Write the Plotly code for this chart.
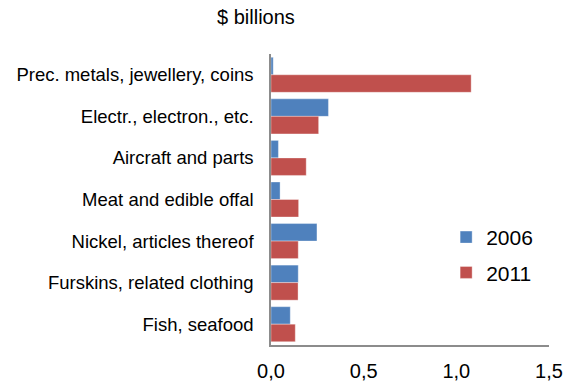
import plotly.graph_objects as go

# Product groups, listed top to bottom
categories = [
    "Prec. metals, jewellery, coins",
    "Electr., electron., etc.",
    "Aircraft and parts",
    "Meat and edible offal",
    "Nickel, articles thereof",
    "Furskins, related clothing",
    "Fish, seafood",
]
values_2006 = [0.012, 0.31, 0.04, 0.049, 0.248, 0.147, 0.104]
values_2011 = [1.08, 0.257, 0.19, 0.149, 0.147, 0.146, 0.131]
x_ticks = [0.0, 0.5, 1.0, 1.5]

FONT = "Liberation Sans, Arial, sans-serif"
BAR_EDGE = dict(color="rgba(255,255,255,0.35)", width=1)

fig = go.Figure()
fig.add_trace(go.Bar(
    y=categories, x=values_2006, name="2006", orientation="h",
    marker=dict(color="#4F81BD", line=BAR_EDGE),
    legendgroup="a",
))
fig.add_trace(go.Bar(
    y=categories, x=values_2011, name="2011", orientation="h",
    marker=dict(color="#C0504D", line=BAR_EDGE),
    legendgroup="b",
))

fig.update_layout(
    width=573, height=384,
    margin=dict(l=271, r=24, t=54, b=39),
    paper_bgcolor="white", plot_bgcolor="white",
    barmode="group", bargap=0.157, bargroupgap=0,
    separators=", ",
    font=dict(family=FONT, color="#000000"),
    showlegend=True,
    legend=dict(
        x=0.63, y=0.44, xref="paper", yref="paper",
        xanchor="left", yanchor="top",
        font=dict(size=21, family=FONT),
        itemwidth=30, tracegroupgap=5,
        bgcolor="rgba(0,0,0,0)",
    ),
    annotations=[dict(
        text="$ billions",
        x=(256 - 271) / (573 - 271 - 24),
        y=1 + (54 - 17) / (384 - 54 - 39),
        xref="paper", yref="paper", xanchor="center", yanchor="middle",
        showarrow=False, font=dict(size=20, family=FONT),
    )],
)

fig.update_xaxes(
    range=[0, 1.5], tickvals=x_ticks, tickformat=".1f",
    showgrid=False, zeroline=False, automargin=False,
    showline=True, linecolor="#8c8c8c", linewidth=1.5,
    ticks="", ticklabelstandoff=7,
    tickfont=dict(size=20, family=FONT, color="#000000"),
)
fig.update_yaxes(
    autorange="reversed", categoryorder="array", categoryarray=categories,
    showgrid=False, zeroline=False, automargin=False,
    showline=True, linecolor="#8c8c8c", linewidth=1.5,
    ticks="", ticklabelstandoff=12,
    tickfont=dict(size=18.5, family=FONT, color="#000000"),
)

fig.write_html("out.html")
